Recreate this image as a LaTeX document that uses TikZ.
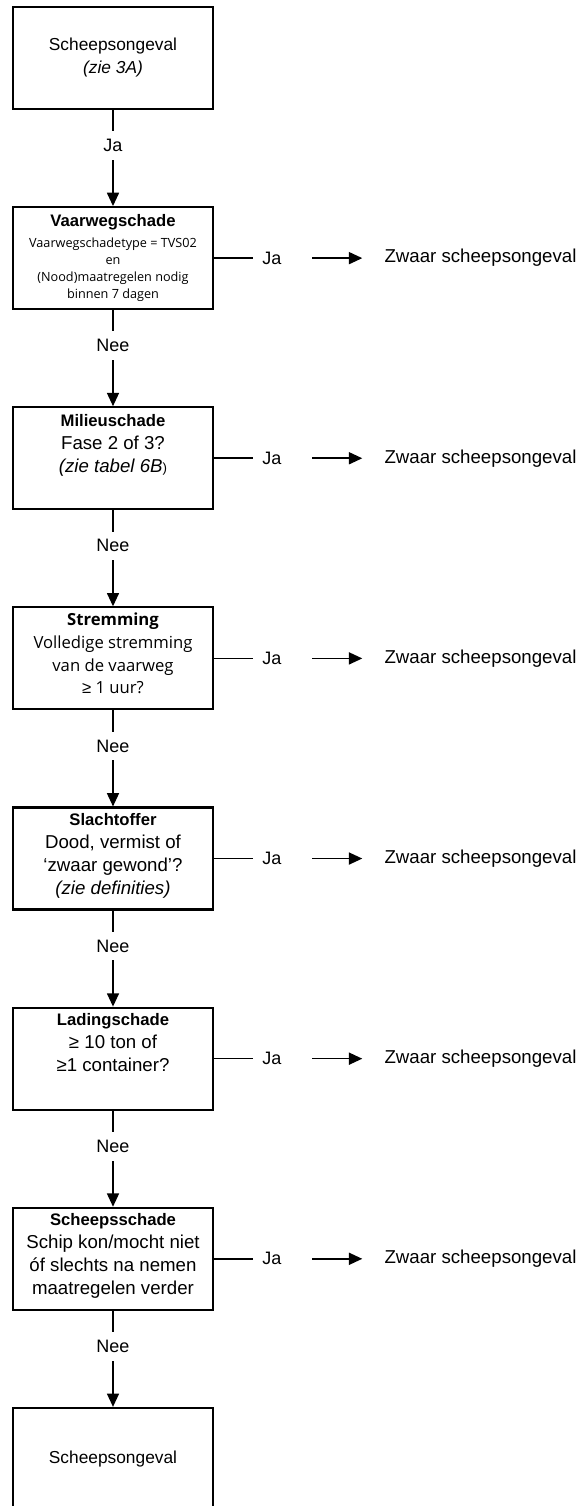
\documentclass[tikz,border=0pt]{standalone}
\usepackage{fontspec}
\setmainfont{Liberation Sans}
\newfontfamily\humfont{Open Sans}
\usetikzlibrary{positioning}
\usetikzlibrary{arrows.meta}
\tikzset{
	box/.style={draw, line width=1.6pt, minimum width=150pt, minimum height=76.5pt, inner sep=0pt, align=center, font=\fontsize{13}{17.25}\selectfont},
	txt/.style={anchor=north, align=center, inner sep=0pt, font=\fontsize{14}{17.25}\selectfont},
	lbl/.style={fill=white, inner xsep=0pt, inner ysep=6pt, font=\fontsize{13.5}{16}\selectfont},
	res/.style={anchor=west, inner sep=0pt, font=\fontsize{14}{17}\selectfont},
	arr/.style={line width=1.2pt, -{Triangle[length=10pt,width=9pt]}},
	ja/.style={line width=1.2pt, shorten >=6.75pt},
	naar/.style={arr, shorten <=23pt, shorten >=16.5pt}
}
\newcommand\titel[1]{{\bfseries\fontsize{12.5}{15}\selectfont #1}}

\begin{document}
\begin{tikzpicture}[x=0.75pt, y=-0.75pt]
		\useasboundingbox (0,0) rectangle (585,1506);
		\node (b1)[box] at (113,58) {Scheepsongeval\\ \textit{(zie 3A)}};
		\node (b2)[box, below=72pt of b1] {};
		\node (b3)[box, below=72pt of b2] {};
		\node (b4)[box, below=72pt of b3] {};
		\node (b5)[box, below=72pt of b4] {};
		\node (b6)[box, below=72pt of b5] {};
		\node (b7)[box, below=72pt of b6] {};
		\node (b8)[box, below=72pt of b7] {Scheepsongeval};
		%
		\node (t2)[txt, font=\humfont\fontsize{9.5}{12.75}\selectfont] at ([yshift=-6pt]b2.north) {{\normalfont\titel{Vaarwegschade}}\\[3pt] Vaarwegschadetype = TVS02\\ en\\ (Nood)maatregelen nodig\\ binnen 7 dagen};
		\node (t3)[txt] at ([yshift=-6pt]b3.north) {\titel{Milieuschade}\\ Fase 2 of 3?\\ \textit{(zie tabel 6B}{\fontsize{10}{12}\selectfont)}};
		\node (t4)[txt, font=\humfont\fontsize{12.5}{17}\selectfont] at ([yshift=-5pt]b4.north) {\titel{Stremming}\\ Volledige stremming\\ van de vaarweg\\ {\normalfont ≥} 1 uur?};
		\node (t5)[txt] at ([yshift=-5pt]b5.north) {\titel{Slachtoffer}\\ Dood, vermist of\\ ‘zwaar gewond’?\\ \textit{(zie definities)}};
		\node (t6)[txt] at ([yshift=-5pt]b6.north) {\titel{Ladingschade}\\ ≥ 10 ton of\\ ≥1 container?};
		\node (t7)[txt] at ([yshift=-5pt]b7.north) {\titel{Scheepsschade}\\ Schip kon/mocht niet\\ óf slechts na nemen\\ maatregelen verder};
		%
		\draw[arr] (b1) -- node (n1)[lbl, pos=.37] {Ja} (b2);
		\draw[arr] (b2) -- node (n2)[lbl, pos=.37] {Nee} (b3);
		\draw[arr] (b3) -- node (n3)[lbl, pos=.37] {Nee} (b4);
		\draw[arr] (b4) -- node (n4)[lbl, pos=.37] {Nee} (b5);
		\draw[arr] (b5) -- node (n5)[lbl, pos=.37] {Nee} (b6);
		\draw[arr] (b6) -- node (n6)[lbl, pos=.37] {Nee} (b7);
		\draw[arr] (b7) -- node (n7)[lbl, pos=.37] {Nee} (b8);
		%
		\node (j2)[lbl, right=36pt of b2] {Ja};
		\node (j3)[lbl, right=36pt of b3] {Ja};
		\node (j4)[lbl, right=36pt of b4] {Ja};
		\node (j5)[lbl, right=36pt of b5] {Ja};
		\node (j6)[lbl, right=36pt of b6] {Ja};
		\node (j7)[lbl, right=36pt of b7] {Ja};
		\node (z2)[res, right=77pt of j2] {Zwaar scheepsongeval};
		\node (z3)[res, right=77pt of j3] {Zwaar scheepsongeval};
		\node (z4)[res, right=77pt of j4] {Zwaar scheepsongeval};
		\node (z5)[res, right=77pt of j5] {Zwaar scheepsongeval};
		\node (z6)[res, right=77pt of j6] {Zwaar scheepsongeval};
		\node (z7)[res, right=77pt of j7] {Zwaar scheepsongeval};
		\draw[ja] (b2) -- (j2);
		\draw[ja] (b3) -- (j3);
		\draw[ja] (b4) -- (j4);
		\draw[ja] (b5) -- (j5);
		\draw[ja] (b6) -- (j6);
		\draw[ja] (b7) -- (j7);
		\draw[naar] (j2) -- (z2);
		\draw[naar] (j3) -- (z3);
		\draw[naar] (j4) -- (z4);
		\draw[naar] (j5) -- (z5);
		\draw[naar] (j6) -- (z6);
		\draw[naar] (j7) -- (z7);
\end{tikzpicture}
\end{document}
